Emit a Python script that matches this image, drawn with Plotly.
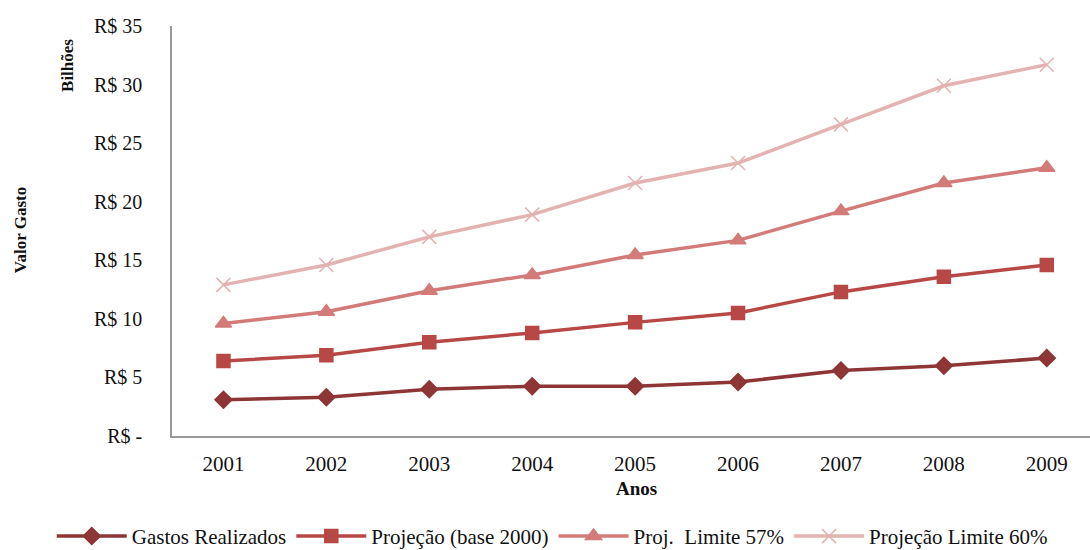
import plotly.graph_objects as go

anos = ["2001", "2002", "2003", "2004", "2005", "2006", "2007", "2008", "2009"]
gastos_realizados = [3.1, 3.3, 4.0, 4.25, 4.25, 4.6, 5.6, 6.0, 6.65]
projecao_base_2000 = [6.4, 6.9, 8.0, 8.8, 9.7, 10.5, 12.3, 13.6, 14.6]
proj_limite_57 = [9.6, 10.6, 12.4, 13.75, 15.45, 16.7, 19.2, 21.6, 22.9]
projecao_limite_60 = [12.9, 14.6, 17.0, 18.9, 21.6, 23.3, 26.6, 29.9, 31.7]

y_ticks = [0, 5, 10, 15, 20, 25, 30, 35]
y_tick_labels = ["R$ -", "R$ 5", "R$ 10", "R$ 15", "R$ 20", "R$ 25", "R$ 30", "R$ 35"]

series = [
    ("Gastos Realizados", gastos_realizados, "#8E3535", "diamond", 13),
    ("Projeção (base 2000)", projecao_base_2000, "#B84845", "square", 13),
    ("Proj.  Limite 57%", proj_limite_57, "#D27B79", "triangle-up", 14),
    ("Projeção Limite 60%", projecao_limite_60, "#E2B3B1", "x-thin", 14),
]

serif = "Liberation Serif, Times New Roman, serif"

fig = go.Figure()
for name, vals, color, symbol, size in series:
    fig.add_trace(go.Scatter(
        x=anos, y=vals, name=name, mode="lines+markers",
        line=dict(color=color, width=3.5),
        marker=dict(symbol=symbol, size=size, color=color,
                    line=dict(color=color, width=1.5)),
    ))

fig.update_layout(
    width=1090, height=550,
    margin=dict(l=172, r=0, t=26, b=114, autoexpand=False),
    plot_bgcolor="white", paper_bgcolor="white",
    font=dict(family=serif, size=20, color="#111"),
    showlegend=True,
    # anchored left of the plot area so the single row may use the full width
    legend=dict(orientation="h", x=-0.131, xanchor="left", y=-0.245, yanchor="middle",
                font=dict(family=serif, size=21), itemwidth=70,
                traceorder="normal"),
    xaxis=dict(
        type="category", range=[-0.5, 8.42], automargin=False,
        showline=True, linecolor="#999", linewidth=1.5,
        showgrid=False, ticks="", ticklabelstandoff=8,
        tickfont=dict(family=serif, size=21),
    ),
    yaxis=dict(
        range=[0, 35], tickvals=y_ticks, ticktext=y_tick_labels, automargin=False,
        showline=True, linecolor="#999", linewidth=1.5,
        showgrid=False, zeroline=False, ticks="", ticklabelstandoff=24,
        tickfont=dict(family=serif, size=20),
    ),
    annotations=[
        dict(text="<b>Anos</b>", xref="paper", yref="paper", x=0.5065, y=-0.129,
             xanchor="center", yanchor="middle",
             showarrow=False, font=dict(family=serif, size=19)),
        dict(text="<b>Valor Gasto</b>", xref="paper", yref="paper", x=-0.1656, y=0.502,
             xanchor="center", yanchor="middle",
             showarrow=False, textangle=-90, font=dict(family=serif, size=17)),
        dict(text="<b>Bilhões</b>", xref="paper", yref="paper", x=-0.1133, y=0.905,
             xanchor="center", yanchor="middle",
             showarrow=False, textangle=-90, font=dict(family=serif, size=17)),
    ],
)

fig.write_html("out.html")
